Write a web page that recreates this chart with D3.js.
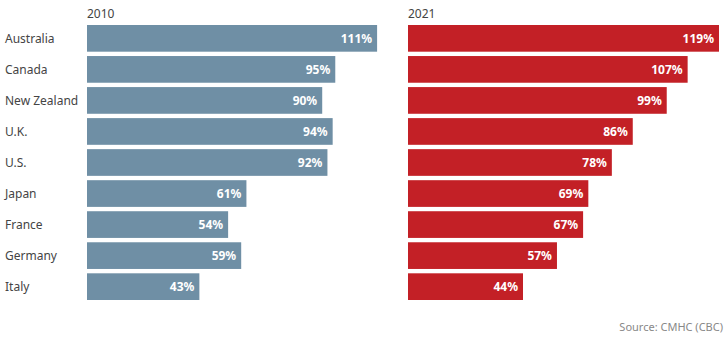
<!DOCTYPE html>
<html>
<head>
<meta charset="utf-8">
<script src="https://cdn.jsdelivr.net/npm/d3@7"></script>
<style>
  body { margin: 0; background: #fff; }
  svg text { font-family: "Noto Sans", "DejaVu Sans", sans-serif; }
</style>
</head>
<body>
<svg id="chart" width="728" height="340"></svg>
<script>
var countries = ["Australia", "Canada", "New Zealand", "U.K.", "U.S.", "Japan", "France", "Germany", "Italy"];
var years = ["2010", "2021"];
var values2010 = [111, 95, 90, 94, 92, 61, 54, 59, 43];
var values2021 = [119, 107, 99, 86, 78, 69, 67, 57, 44];
var colors = ["#6f8fa5", "#c32026"];

var svg = d3.select("#chart");

// shared value scale so both panels are comparable
var x = d3.scaleLinear().domain([0, 119]).range([0, 311]);

var y = d3.scaleBand()
    .domain(countries)
    .range([25, 300])
    .paddingInner(0.14)
    .paddingOuter(0);

var panelLeft = [87, 408];
var series = [values2010, values2021];

// country names on the left
svg.append("g")
    .selectAll("text")
    .data(countries)
    .enter().append("text")
      .attr("x", 5)
      .attr("y", function(d) { return y(d) + y.bandwidth() / 2; })
      .attr("dy", "0.35em")
      .attr("fill", "#444")
      .style("font-size", "12px")
      .text(function(d) { return d; });

years.forEach(function(year, p) {
    var g = svg.append("g")
        .attr("transform", "translate(" + panelLeft[p] + ",0)");

    g.append("text")
        .attr("x", 0)
        .attr("y", 18)
        .attr("fill", "#444")
        .style("font-size", "12px")
        .text(year);

    var rows = countries.map(function(c, i) { return {country: c, value: series[p][i]}; });

    g.selectAll("rect")
        .data(rows)
        .enter().append("rect")
          .attr("x", 0)
          .attr("y", function(d) { return y(d.country); })
          .attr("width", function(d) { return x(d.value); })
          .attr("height", y.bandwidth())
          .attr("fill", colors[p]);

    g.selectAll("text.val")
        .data(rows)
        .enter().append("text")
          .attr("class", "val")
          .attr("x", function(d) { return x(d.value) - 5; })
          .attr("y", function(d) { return y(d.country) + y.bandwidth() / 2; })
          .attr("dy", "0.35em")
          .attr("text-anchor", "end")
          .attr("fill", "#fff")
          .style("font-size", "12px")
          .style("font-weight", "bold")
          .text(function(d) { return d.value + "%"; });
});

svg.append("text")
    .attr("x", 723)
    .attr("y", 331)
    .attr("text-anchor", "end")
    .attr("fill", "#888")
    .style("font-size", "11px")
    .text("Source: CMHC (CBC)");
</script>
</body>
</html>
